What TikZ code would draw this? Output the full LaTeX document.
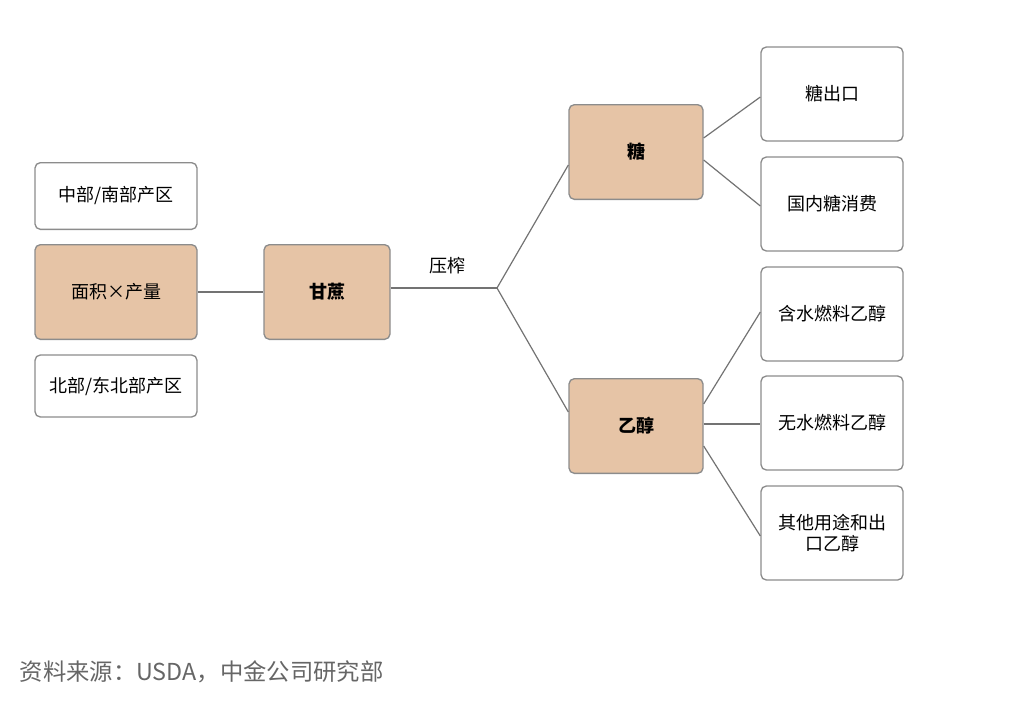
\documentclass[tikz,border=0pt]{standalone}
\usepackage{fontspec}
\setmainfont{Noto Sans CJK SC}
\begin{document}
\begin{tikzpicture}[x=0.75pt,y=-0.75pt,
  box/.style={draw=black!45,line width=1pt,rounded corners=4pt,fill=white,font=\fontsize{13.5}{16}\selectfont,align=center},
  tan/.style={box,fill=tanc,font=\fontsize{13.5}{16}\selectfont\bfseries},
  conn/.style={draw=black!55,line width=0.9pt}]
\definecolor{tanc}{HTML}{E6C4A6}
\useasboundingbox (0,0) rectangle (1024,710);
\node[box,minimum width=121.5pt,minimum height=50pt] (n1) at (116,196) {中部/南部产区};
\node[box,fill=tanc,minimum width=121.5pt,minimum height=71pt] (n2) at (116,292) {面积×产量};
\node[box,minimum width=121.5pt,minimum height=46.5pt] (n3) at (116,386) {北部/东北部产区};
\node[tan,minimum width=94.5pt,minimum height=71pt] (gz) at (327,292) {甘蔗};
\node[tan,minimum width=100.5pt,minimum height=71pt] (tang) at (636,152) {糖};
\node[tan,minimum width=100.5pt,minimum height=71pt] (yc) at (636,426) {乙醇};
\node[box,minimum width=106.5pt,minimum height=70.5pt] (a1) at (832,94) {糖出口};
\node[box,minimum width=106.5pt,minimum height=70.5pt] (a2) at (832,204) {国内糖消费};
\node[box,minimum width=106.5pt,minimum height=70.5pt] (a3) at (832,314) {含水燃料乙醇};
\node[box,minimum width=106.5pt,minimum height=70.5pt] (a4) at (832,423) {无水燃料乙醇};
\node[box,minimum width=106.5pt,minimum height=70.5pt] (a5) at (832,533) {其他用途和出\\口乙醇};
\coordinate (bp) at (497,288);
\draw[conn] (n2.east) -- (gz.west);
\draw[conn] (gz.east |- bp) -- (bp);
\draw[conn] (bp) -- (tang.west |- 0,165);
\draw[conn] (bp) -- (yc.west |- 0,412);
\node[font=\fontsize{13.5}{16}\selectfont] (yz) at (447,266) {压榨};
\draw[conn] (tang.east |- 0,138) -- (a1.west |- 0,97);
\draw[conn] (tang.east |- 0,160) -- (a2.west |- 0,206);
\draw[conn] (yc.east |- 0,404) -- (a3.west |- 0,312);
\draw[conn] (yc.east |- 0,424) -- (a4.west |- 0,424);
\draw[conn] (yc.east |- 0,446) -- (a5.west |- 0,536);
\node[anchor=west,text=black!60,font=\fontsize{17.5}{20}\selectfont] (src) at (15,672) {资料来源：USDA，中金公司研究部};
\end{tikzpicture}
\end{document}
